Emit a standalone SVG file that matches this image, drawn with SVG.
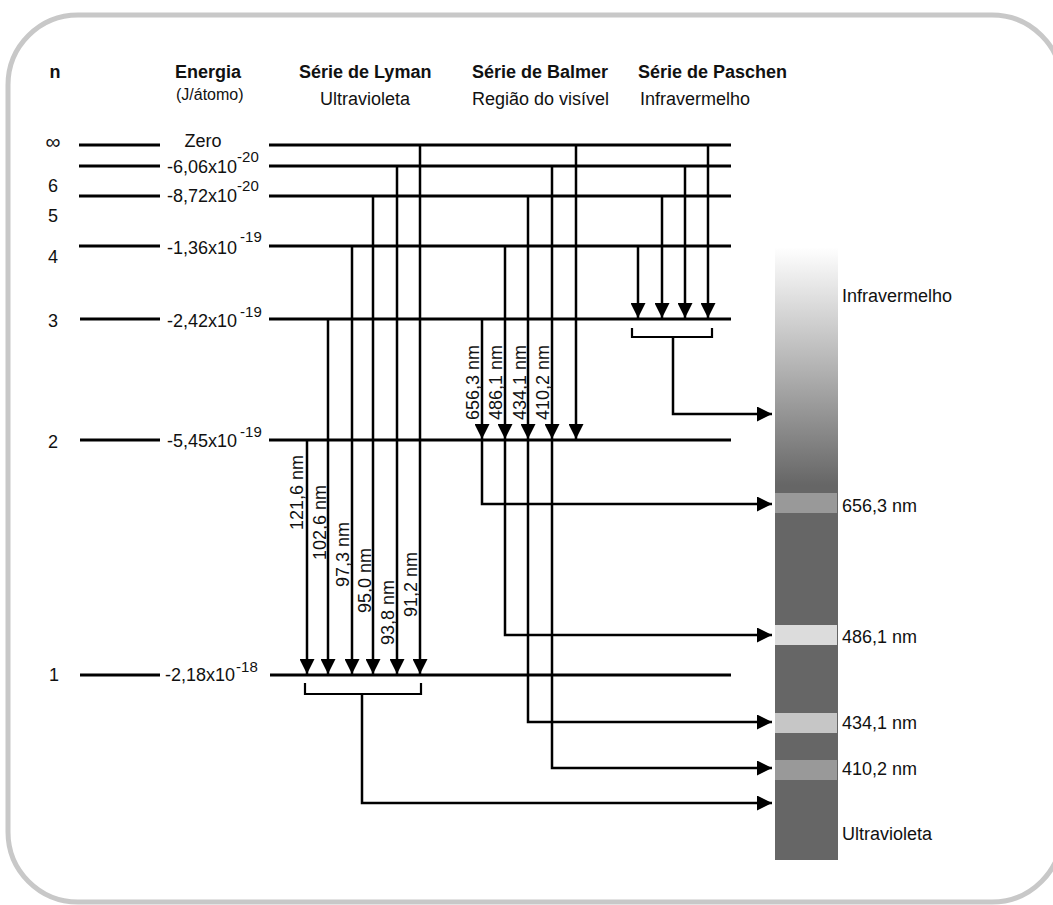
<svg xmlns="http://www.w3.org/2000/svg" width="1053" height="905" viewBox="0 0 1053 905">
<style>
text{font-family:"Liberation Sans",Arial,sans-serif;font-size:18px;fill:#111}
.b{font-weight:bold}
.s16{font-size:16px}
.sup{font-size:15px}
.inf{font-size:21px}
.lvl{stroke:#000;stroke-width:3;fill:none}
.ar{stroke:#000;stroke-width:2.5;fill:none;marker-end:url(#ah)}
.br{stroke:#000;stroke-width:2.2;fill:none}
</style>
<defs>
<marker id="ah" markerUnits="userSpaceOnUse" markerWidth="16" markerHeight="15" refX="15" refY="7.5" orient="auto">
<path d="M0,0 L15,7.5 L0,15 z" fill="#000"/>
</marker>
<linearGradient id="spec" gradientUnits="userSpaceOnUse" x1="0" y1="247" x2="0" y2="485">
<stop offset="0" stop-color="#ffffff"/>
<stop offset="0.5" stop-color="#b4b4b4"/>
<stop offset="1" stop-color="#666666"/>
</linearGradient>
</defs>
<rect width="1053" height="905" fill="#fff"/>
<rect id="frame" x="8" y="15" width="1054" height="887" rx="70" ry="70" fill="none" stroke="#c8c8c8" stroke-width="5"/>

<g id="headers">
<text class="b" x="55" y="78" text-anchor="middle">n</text>
<text class="b" x="175" y="78">Energia</text>
<text class="s16" x="176" y="100">(J/átomo)</text>
<text class="b" x="299" y="78">Série de Lyman</text>
<text x="320" y="105">Ultravioleta</text>
<text class="b" x="472" y="78">Série de Balmer</text>
<text x="472" y="105">Região do visível</text>
<text class="b" x="638" y="78">Série de Paschen</text>
<text x="640" y="105">Infravermelho</text>
</g>

<g id="level-inf">
<text class="inf" x="53" y="149" text-anchor="middle">∞</text>
<path class="lvl" d="M79,145 H160 M269,145 H731"/>
<text x="203" y="147" text-anchor="middle">Zero</text>
</g>
<g id="level-6">
<text x="48" y="192">6</text>
<path class="lvl" d="M79,166 H160 M269,166 H731"/>
<text x="167" y="173">-6,06x10<tspan class="sup" dy="-11">-20</tspan></text>
</g>
<g id="level-5">
<text x="48" y="222">5</text>
<path class="lvl" d="M79,196 H160 M269,196 H731"/>
<text x="167" y="202">-8,72x10<tspan class="sup" dy="-11">-20</tspan></text>
</g>
<g id="level-4">
<text x="48" y="263">4</text>
<path class="lvl" d="M79,246 H160 M269,246 H731"/>
<text x="167" y="254">-1,36x10<tspan class="sup" dx="3" dy="-12">-19</tspan></text>
</g>
<g id="level-3">
<text x="48" y="327">3</text>
<path class="lvl" d="M80,319 H160 M269,319 H731"/>
<text x="167" y="327">-2,42x10<tspan class="sup" dx="3" dy="-10">-19</tspan></text>
</g>
<g id="level-2">
<text x="48" y="448">2</text>
<path class="lvl" d="M80,440 H160 M269,440 H731"/>
<text x="167" y="447">-5,45x10<tspan class="sup" dx="3" dy="-10">-19</tspan></text>
</g>
<g id="level-1">
<text x="49" y="681">1</text>
<path class="lvl" d="M80,675 H160 M270,675 H731"/>
<text x="165" y="681">-2,18x10<tspan class="sup" dx="1" dy="-9">-18</tspan></text>
</g>

<g id="spectrum">
<rect x="775" y="247" width="63" height="613" fill="url(#spec)"/>
<rect x="775" y="485" width="63" height="375" fill="#666"/>
<rect x="775" y="493" width="62" height="20" fill="#999"/>
<rect x="775" y="625" width="62" height="20" fill="#dcdcdc"/>
<rect x="775" y="713" width="62" height="20" fill="#c6c6c6"/>
<rect x="775" y="760" width="62" height="20" fill="#999"/>
<text x="842" y="302">Infravermelho</text>
<text x="842" y="512">656,3 nm</text>
<text x="842" y="643">486,1 nm</text>
<text x="842" y="729">434,1 nm</text>
<text x="842" y="775">410,2 nm</text>
<text x="842" y="840">Ultravioleta</text>
</g>

<g id="connectors">
<path class="ar" d="M307,440 V674"/>
<path class="ar" d="M328,319 V674"/>
<path class="ar" d="M352,246 V674"/>
<path class="ar" d="M373,196 V674"/>
<path class="ar" d="M397,166 V674"/>
<path class="ar" d="M420,145 V674"/>
<path class="br" d="M305,683 V694 H421 V683"/>
<path class="ar" d="M362,694 V803 H772"/>
<path class="ar" d="M482,319 V439"/>
<path class="ar" d="M505,246 V439"/>
<path class="ar" d="M528,196 V439"/>
<path class="ar" d="M552,166 V439"/>
<path class="ar" d="M576,145 V439"/>
<path class="ar" d="M482,440 V504 H772"/>
<path class="ar" d="M505,440 V635 H772"/>
<path class="ar" d="M528,440 V722 H772"/>
<path class="ar" d="M552,440 V768 H772"/>
<path class="ar" d="M638,246 V318"/>
<path class="ar" d="M662,196 V318"/>
<path class="ar" d="M685,166 V318"/>
<path class="ar" d="M708,145 V318"/>
<path class="br" d="M632,328 V337 H712 V328"/>
<path class="ar" d="M673,337 V414 H772"/>
</g>

<g id="wavelength-labels">
<text transform="translate(303,530) rotate(-90)">121,6 nm</text>
<text transform="translate(326,560) rotate(-90)">102,6 nm</text>
<text transform="translate(349,587) rotate(-90)">97,3 nm</text>
<text transform="translate(371,613) rotate(-90)">95,0 nm</text>
<text transform="translate(394,645) rotate(-90)">93,8 nm</text>
<text transform="translate(417,617) rotate(-90)">91,2 nm</text>
<text transform="translate(479,420) rotate(-90)">656,3 nm</text>
<text transform="translate(502,420) rotate(-90)">486,1 nm</text>
<text transform="translate(526,420) rotate(-90)">434,1 nm</text>
<text transform="translate(549,420) rotate(-90)">410,2 nm</text>
</g>
</svg>
